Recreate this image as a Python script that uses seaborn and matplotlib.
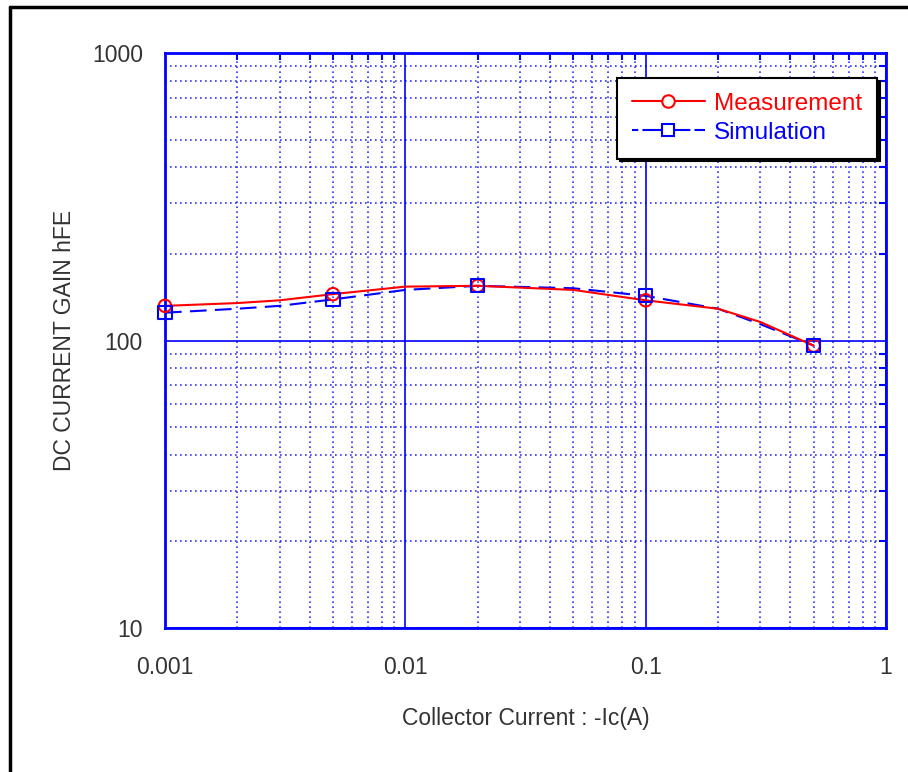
import matplotlib
matplotlib.use("Agg")
import matplotlib.pyplot as plt
import seaborn as sns
import pandas as pd
from matplotlib.lines import Line2D
from matplotlib.ticker import FixedLocator, FixedFormatter, LogLocator, NullFormatter

# ---- data ----
ic_line = [0.001, 0.002, 0.003, 0.005, 0.01, 0.02, 0.05, 0.1, 0.2, 0.3, 0.5]
meas_line = [132, 135, 138, 145, 154, 155, 150, 138, 129, 116, 96]
sim_line = [125, 129, 132, 139, 150, 155, 152, 143, 129, 114, 96]

ic_mark = [0.001, 0.005, 0.02, 0.1, 0.5]
meas_mark = [132, 145, 155, 138, 96]
sim_mark = [125, 139, 155, 143, 96]

x_ticks = [0.001, 0.01, 0.1, 1]
x_labels = ["0.001", "0.01", "0.1", "1"]
y_ticks = [10, 100, 1000]
y_labels = ["10", "100", "1000"]

RED = "#FF0000"
BLUE = "#0000FF"
TXT = "#333333"

sns.set_style("white")
plt.rcParams["font.family"] = ["Liberation Sans", "DejaVu Sans"]

fig = plt.figure(figsize=(9.08, 7.72), dpi=100)
ax = fig.add_axes([0.1817, 0.1865, 0.9758 - 0.1817, 0.9313 - 0.1865])

df_line = pd.DataFrame({"ic": ic_line, "meas": meas_line, "sim": sim_line})
df_mark = pd.DataFrame({"ic": ic_mark, "meas": meas_mark, "sim": sim_mark})

sns.lineplot(data=df_line, x="ic", y="sim", ax=ax, color=BLUE, lw=1.5,
             dashes=False, zorder=3)
ax.lines[-1].set_dashes((8, 4))
sns.lineplot(data=df_line, x="ic", y="meas", ax=ax, color=RED, lw=1.5, zorder=4)
sns.scatterplot(data=df_mark, x="ic", y="meas", ax=ax, marker="o", s=80,
                facecolor="none", edgecolor=RED, linewidth=1.5, zorder=5)
sns.scatterplot(data=df_mark, x="ic", y="sim", ax=ax, marker="s", s=90,
                facecolor="none", edgecolor=BLUE, linewidth=1.5, zorder=6)
for coll in ax.collections:
    coll.set_clip_on(False)

ax.set_xscale("log")
ax.set_yscale("log")
ax.set_xlim(0.001, 1)
ax.set_ylim(10, 1000)

ax.xaxis.set_major_locator(FixedLocator(x_ticks))
ax.xaxis.set_major_formatter(FixedFormatter(x_labels))
ax.yaxis.set_major_locator(FixedLocator(y_ticks))
ax.yaxis.set_major_formatter(FixedFormatter(y_labels))
ax.xaxis.set_minor_locator(LogLocator(base=10, subs=range(2, 10)))
ax.yaxis.set_minor_locator(LogLocator(base=10, subs=range(2, 10)))
ax.xaxis.set_minor_formatter(NullFormatter())
ax.yaxis.set_minor_formatter(NullFormatter())

ax.grid(True, which="major", color=BLUE, lw=1.2, ls="-", zorder=1)
ax.grid(True, which="minor", color=BLUE, lw=1.2, ls=(0, (1, 2)), alpha=0.8, zorder=1)
ax.set_axisbelow(True)

for sp in ax.spines.values():
    sp.set_color(BLUE)
    sp.set_linewidth(2)

ax.tick_params(which="both", direction="in", top=True, right=True, color=BLUE,
               width=1.5, labelsize=16.5, labelcolor=TXT)
ax.tick_params(which="major", length=0)
ax.tick_params(which="minor", length=5)
ax.tick_params(axis="y", which="major", pad=16)
ax.tick_params(axis="x", which="major", pad=20)

ax.set_xlabel("Collector Current : -Ic(A)", fontsize=16.5, color=TXT, labelpad=20)
ax.set_ylabel("DC CURRENT GAIN hFE", fontsize=16.5, color=TXT, labelpad=11)

handles = [
    Line2D([], [], color=RED, lw=1.5, marker="o", markersize=9,
           markerfacecolor="white", markeredgecolor=RED, markeredgewidth=1.5),
    Line2D([], [], color=BLUE, lw=1.5, marker="s", markersize=9, dashes=(3, 2, 20, 0),
           markerfacecolor="white", markeredgecolor=BLUE, markeredgewidth=1.5),
]
leg = ax.legend(handles, ["Measurement", "Simulation"], loc="upper right",
                bbox_to_anchor=(0.9875, 0.9565), fancybox=False,
                shadow={"color": "black", "alpha": 1}, framealpha=1,
                edgecolor="black", fontsize=17.5, handlelength=3.0,
                borderpad=0.6, labelspacing=0.3, handletextpad=0.4,
                borderaxespad=0)
leg.get_frame().set_linewidth(1.5)
for t, c in zip(leg.get_texts(), [RED, BLUE]):
    t.set_color(c)

# outer frame (top and left only visible)
fig.add_artist(Line2D([10 / 908, 10 / 908], [0, 1 - 7 / 772], color="black", lw=2.5,
                      transform=fig.transFigure))
fig.add_artist(Line2D([10 / 908, 1], [1 - 7 / 772, 1 - 7 / 772], color="black", lw=2.5,
                      transform=fig.transFigure))

fig.savefig("out.png", dpi=100, facecolor="white")
